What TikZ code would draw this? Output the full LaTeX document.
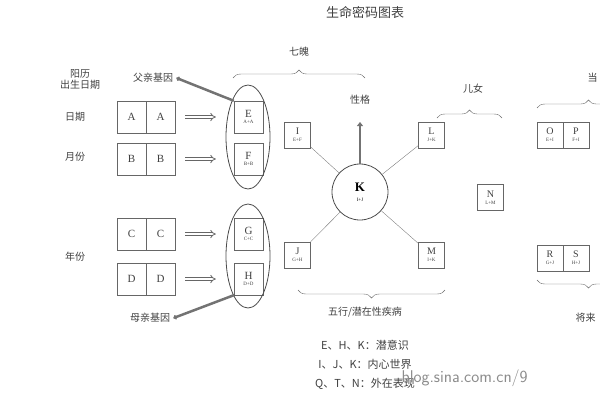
\documentclass[tikz,border=0pt]{standalone}
\usepackage{fontspec}
\setmainfont{Liberation Serif}
\newfontfamily\cjk{Noto Sans CJK SC}
\usetikzlibrary{decorations.pathreplacing,arrows.meta}
\begin{document}
\begin{tikzpicture}[x=1pt,y=-1pt,
  lbl/.style={font=\cjk\fontsize{10}{11}\selectfont,text=black!75},
  bx/.style={draw=black!60,minimum width=29pt,minimum height=32pt,inner sep=0pt,font=\fontsize{11}{12}\selectfont,text=black!75},
  sbx/.style={draw=black!60,minimum width=26pt,minimum height=26pt,inner sep=0pt,align=center,font=\fontsize{10}{9}\selectfont,text=black!75},
  brc/.style={decorate,decoration={brace,amplitude=8pt},draw=black!60},
  dbl/.style={double,double distance=2pt,draw=black!60,-{Implies},thick},
  gl/.style={draw=black!55,line width=2.5pt}]
\useasboundingbox (0,0) rectangle (600,400);
\clip (0,0) rectangle (600,400);
\node[lbl,font=\cjk\fontsize{13}{13}\selectfont] (title) at (365,12) {生命密码图表};
\node[lbl,align=center] (yl) at (80,79) {阳历\\出生日期};
\node[lbl] (rq) at (75,117) {日期};
\node[lbl] (yf) at (75,157) {月份};
\node[lbl] (nf) at (75,257) {年份};
\foreach \n/\y in {A/117,B/159,C/234,D/279}{
  \node[bx] (\n1) at (131.5,\y) {\n};
  \node[bx] (\n2) at (160.5,\y) {\n};}
\node[bx] (E) at (248.5,117) {\shortstack{E\\[-1pt]{\tiny A+A}}};
\node[bx] (F) at (248.5,159) {\shortstack{F\\[-1pt]{\tiny B+B}}};
\node[bx] (G) at (248.5,234) {\shortstack{G\\[-1pt]{\tiny C+C}}};
\node[bx] (H) at (248.5,279) {\shortstack{H\\[-1pt]{\tiny D+D}}};
\draw[black!70,thick] (248,137) ellipse (22 and 52);
\draw[black!70,thick] (248,256) ellipse (22 and 52);
\foreach \n/\m in {A/E,B/F,C/G,D/H}{\draw[dbl] ([xshift=10pt]\n2.east) -- ([xshift=-18pt]\m.west);}
\node[lbl] (fq) at (153,78) {父亲基因};
\node[lbl] (mq) at (150,318) {母亲基因};
\draw[gl,{Circle[length=4pt]}-] (fq.east) -- (E.north west);
\draw[gl,{Circle[length=4pt]}-] (mq.east) -- (H.south west);
\draw[brc] (233,78) -- (365,78);
\node[lbl] (qp) at (299,52) {七魄};
\node[sbx] (I) at (297.5,135) {I\\[-2pt]{\tiny E+F}};
\node[sbx] (L) at (431.5,135) {L\\[-2pt]{\tiny J+K}};
\node[sbx] (J) at (297.5,255) {J\\[-2pt]{\tiny G+H}};
\node[sbx] (M) at (431.5,255) {M\\[-2pt]{\tiny I+K}};
\node[draw=black!70,thick,circle,minimum size=56pt,align=center,font=\fontsize{13}{12}\selectfont\bfseries] (K) at (360,192) {K\\[-2pt]{\tiny\mdseries I+J}};
\foreach \n in {I,L,J,M}{\draw[black!50] (K) -- (\n);}
\node[lbl] (xg) at (360,100) {性格};
\draw[gl,-{Triangle[length=4pt,width=6pt]}] (K.north) -- (360,122);
\draw[brc] (437,118) -- (502,118);
\node[lbl] (en) at (473,89) {儿女};
\node[sbx] (N) at (490.5,197.5) {N\\[-2pt]{\tiny L+M}};
\node[sbx] (O) at (550,135) {O\\[-2pt]{\tiny E+I}};
\node[sbx] (P) at (576,135) {P\\[-2pt]{\tiny F+I}};
\node[sbx] (R) at (550,258) {R\\[-2pt]{\tiny G+J}};
\node[sbx] (S) at (576,258) {S\\[-2pt]{\tiny H+J}};
\draw[brc] (537,108) -- (640,108);
\node[lbl,anchor=west] (dq) at (584,78) {当};
\draw[brc] (640,280) -- (537,280);
\node[lbl,anchor=west] (jl) at (572,318) {将来};
\draw[brc] (445,290) -- (298,290);
\node[lbl] (wx) at (365,312) {五行/潜在性疾病};
\node[lbl,font=\cjk\fontsize{11}{11}\selectfont] (t1) at (365,345) {E、H、K：潜意识};
\node[lbl,font=\cjk\fontsize{11}{11}\selectfont] (t2) at (365,364) {I、J、K：内心世界};
\node[lbl,font=\cjk\fontsize{11}{11}\selectfont] (t3) at (365,384) {Q、T、N：外在表现};
\node[anchor=west,font=\sffamily\fontsize{17}{17}\selectfont,text=black!45] (wm) at (398,378) {blog.sina.com.cn/9};
\end{tikzpicture}
\end{document}
